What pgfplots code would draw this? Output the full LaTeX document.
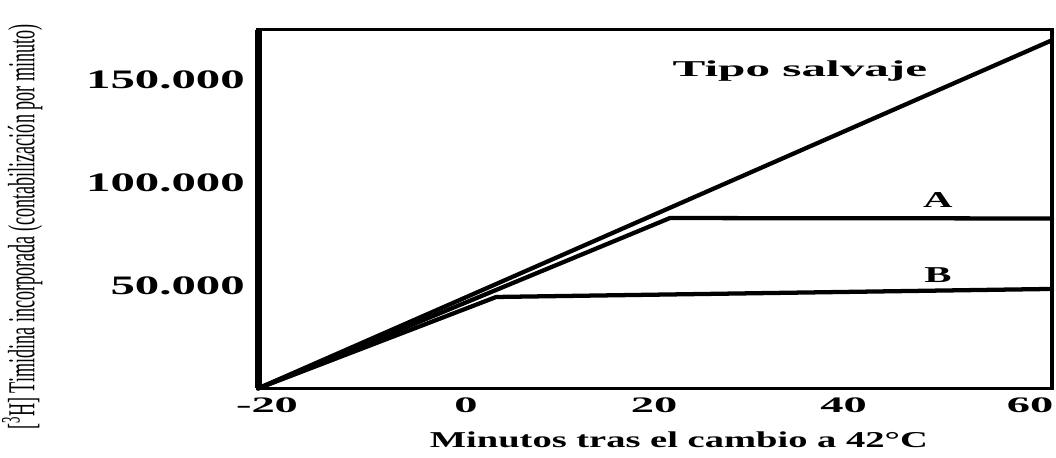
\documentclass[border=0pt]{standalone}
\usepackage{graphicx}
\usepackage{fontspec}
\setmainfont{Liberation Serif}
\usepackage{pgfplots}
\pgfplotsset{compat=1.18}
\newcommand\ytl[1]{\scalebox{1.83}[1]{\fontsize{20}{20}\selectfont\bfseries #1}}
\newcommand\xtl[2]{\makebox[0pt]{\hspace*{#1}\scalebox{2.1}[1]{\fontsize{16.6}{16.6}\selectfont\bfseries #2}}}
\newcommand\wide[2]{\scalebox{#1}[1]{\fontsize{17}{17}\selectfont\bfseries #2}}
\begin{document}
\begin{tikzpicture}
\path[use as bounding box] (0,0) rectangle (792pt,342.75pt);
\begin{axis}[
  at={(193.5pt,51.4pt)}, anchor=south west,
  scale only axis, width=595.5pt, height=268.9pt,
  xmin=-20, xmax=60, ymin=0, ymax=174000,
  clip=false,
  axis line style={line width=2.3pt},
  major tick length=0pt,
  scaled y ticks=false, scaled x ticks=false,
  xtick={-20,0,20,40,60},
  xticklabels={\xtl{13.5pt}{-20},\xtl{14.2pt}{0},\xtl{-1.5pt}{20},\xtl{-15pt}{40},\xtl{-33pt}{60}},
  ytick={50000,100000,150000},
  yticklabels={\ytl{50.000},\ytl{100.000},\ytl{150.000}},
  yticklabel style={anchor=east, inner sep=0pt, xshift=-9.75pt},
  xticklabel style={anchor=north, inner sep=0pt, yshift=-7pt},
  xlabel={\wide{1.70}{Minutos tras el cambio a 42°C}},
  xlabel style={at={(axis description cs:0.530,-0.166)}, anchor=base, inner sep=0pt},
  ylabel={\scalebox{1}[2.1]{\fontsize{13.6}{13.6}\selectfont [\textsuperscript{3}H] Timidina incorporada (contabilización por minuto)}},
  ylabel style={at={(axis description cs:-0.297,0.45)}, anchor=center, rotate=0, inner sep=0pt},
]
\addplot[black, no markers, line width=3.2pt, line join=round, line cap=round] coordinates {(-20,0) (60,169000)};
\addplot[black, no markers, line width=3.2pt, line join=round, line cap=round] coordinates {(-20,0) (21.5,82700) (60,82500)};
\addplot[black, no markers, line width=3.2pt, line join=round, line cap=round] coordinates {(-20,0) (4,44400) (60,48300)};
\node[anchor=base, inner sep=0pt] at (axis cs:34.6,151200) {\wide{2.17}{Tipo salvaje}};
\node[anchor=base, inner sep=0pt] at (axis cs:48.5,87600) {\wide{1.8}{A}};
\node[anchor=base, inner sep=0pt] at (axis cs:48.5,51200) {\wide{1.8}{B}};
\draw[line width=5.25pt] (axis cs:-20,0) -- (axis cs:-20,174000);
\end{axis}
\end{tikzpicture}
\end{document}
